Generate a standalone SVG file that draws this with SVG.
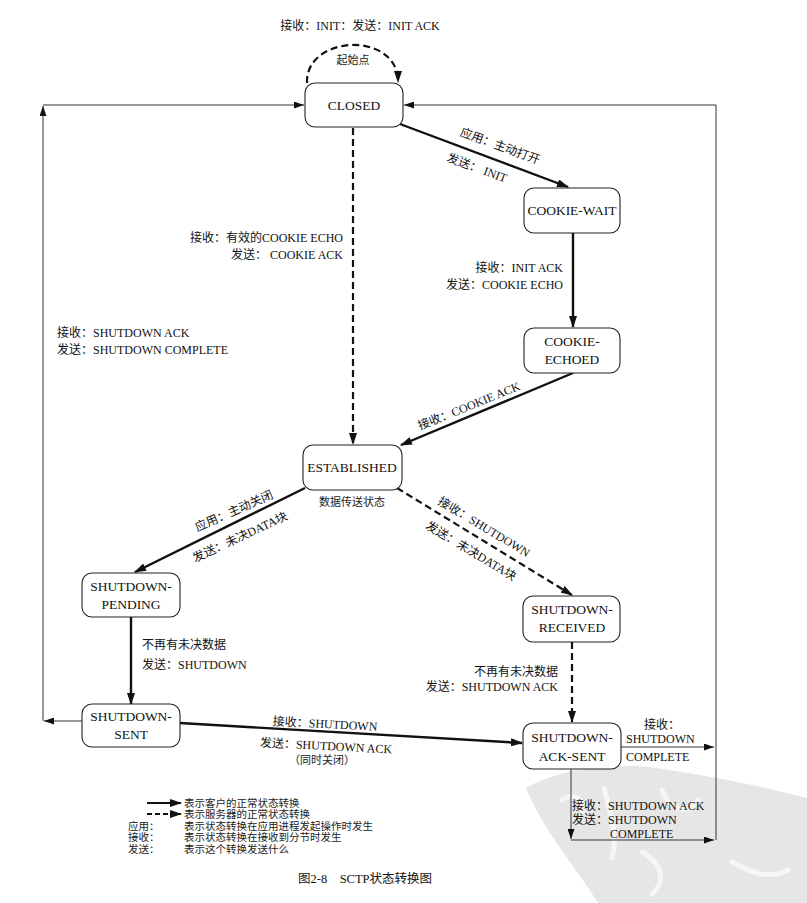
<svg xmlns="http://www.w3.org/2000/svg" width="807" height="903" viewBox="0 0 807 903">
<style>
.n{fill:#fff;stroke:#222;stroke-width:1.1}
.t{font-family:"Liberation Serif","DejaVu Serif",serif;font-size:13.5px;fill:#111}
.l{font-family:"Liberation Serif","Noto Sans CJK SC",serif;font-size:12px;fill:#111}
.s{font-family:"Liberation Serif","Noto Sans CJK SC",serif;font-size:11px;fill:#222}
.g{font-family:"Liberation Serif","Noto Sans CJK SC",serif;font-size:10.5px;fill:#222}
.c{text-anchor:middle}
.r{text-anchor:end}
.solid{fill:none;stroke:#111;stroke-width:2.4}
.dash{fill:none;stroke:#111;stroke-width:2.2;stroke-dasharray:7,4}
.thin{fill:none;stroke:#333;stroke-width:1}
</style>
<defs>
<marker id="ah" markerUnits="userSpaceOnUse" markerWidth="12" markerHeight="8" refX="11" refY="4" orient="auto"><path d="M0,0 L12,4 L0,8 z" fill="#111"/></marker>
<marker id="as" markerUnits="userSpaceOnUse" markerWidth="10" markerHeight="7" refX="10" refY="3.5" orient="auto"><path d="M0,0 L10,3.5 L0,7 z" fill="#111"/></marker>
</defs>
<rect width="807" height="903" fill="#fff"/>
<g id="watermark">
<path d="M526,788 C560,768 620,760 670,770 C720,778 770,788 807,798 L807,903 L598,903 C578,870 543,830 526,788 z" fill="#e6e6e6"/>
<path d="M562,800 C572,792 586,798 582,812 M604,788 C612,818 618,838 612,858 M662,790 C668,808 688,818 698,800 M642,852 C660,862 668,880 652,894 M732,862 C750,872 768,880 788,870" fill="none" stroke="#f6f6f6" stroke-width="5" stroke-linecap="round"/>
</g>
<g id="connectors">
<path class="dash" d="M307,83 C305,35 398,30 398,82" marker-end="url(#ah)"/>
<path class="solid" d="M400,124 L568,187" marker-end="url(#ah)"/>
<path class="solid" d="M573,233 L573,327" marker-end="url(#ah)"/>
<path class="solid" d="M573,373 L401,445" marker-end="url(#ah)"/>
<path class="dash" d="M353,128 L353,444" marker-end="url(#ah)"/>
<path class="solid" d="M305,488 L135,572" marker-end="url(#ah)"/>
<path class="dash" d="M397,488 L572,595" marker-end="url(#ah)"/>
<path class="solid" d="M131,617 L131,704" marker-end="url(#ah)"/>
<path class="dash" d="M572,642 L572,722" marker-end="url(#ah)"/>
<path class="solid" d="M180,723 L522,743" marker-end="url(#ah)"/>
<path class="thin" d="M82,721 L44,721" marker-end="url(#as)"/>
<path class="thin" d="M43,721 L43,106" marker-end="url(#as)"/>
<path class="thin" d="M43,105 L304,105" marker-end="url(#as)"/>
<path class="thin" d="M621,747 L714,747" marker-end="url(#as)"/>
<path class="thin" d="M571,769 L571,839" marker-end="url(#as)"/>
<path class="thin" d="M571,840 L714,840" marker-end="url(#as)"/>
<path class="thin" d="M716,840 L716,105 L404,105" marker-end="url(#as)"/>
</g>
<g id="labels">
<text class="l c" x="360" y="30">接收：INIT：发送：INIT ACK</text>
<text class="s c" x="353" y="64">起始点</text>
<text class="l c" transform="translate(500,146) rotate(20)" x="0" y="4">应用：主动打开</text>
<text class="l c" transform="translate(477,168) rotate(20)" x="0" y="4">发送： INIT</text>
<text class="l r" x="563" y="272">接收：INIT ACK</text>
<text class="l r" x="563" y="289">发送：COOKIE ECHO</text>
<text class="l r" x="343" y="242">接收：有效的COOKIE ECHO</text>
<text class="l r" x="343" y="259">发送： COOKIE ACK</text>
<text class="l" x="57" y="337">接收：SHUTDOWN ACK</text>
<text class="l" x="57" y="354">发送：SHUTDOWN COMPLETE</text>
<text class="l c" transform="translate(469,406) rotate(-22)" x="0" y="4">接收：COOKIE ACK</text>
<text class="s c" x="352" y="506">数据传送状态</text>
<text class="l c" transform="translate(234,511) rotate(-24)" x="0" y="4">应用：主动关闭</text>
<text class="l c" transform="translate(240,537) rotate(-25)" x="0" y="4">发送：未决DATA块</text>
<text class="l c" transform="translate(484,527) rotate(31)" x="0" y="4">接收：SHUTDOWN</text>
<text class="l c" transform="translate(471,551) rotate(31)" x="0" y="4">发送：未决DATA块</text>
<text class="l" x="142" y="649">不再有未决数据</text>
<text class="l" x="142" y="669">发送：SHUTDOWN</text>
<text class="l r" x="558" y="676">不再有未决数据</text>
<text class="l r" x="558" y="691">发送：SHUTDOWN ACK</text>
<text class="l c" transform="translate(325,724) rotate(3)" x="0" y="4">接收：SHUTDOWN</text>
<text class="l c" transform="translate(326,746) rotate(3)" x="0" y="4">发送：SHUTDOWN ACK</text>
<text class="s c" x="322" y="764">（同时关闭）</text>
<text class="l c" x="662" y="729">接收：</text>
<text class="l" x="626" y="743">SHUTDOWN</text>
<text class="l" x="626" y="761">COMPLETE</text>
<text class="l" x="572" y="810">接收：SHUTDOWN ACK</text>
<text class="l" x="572" y="824">发送：SHUTDOWN</text>
<text class="l" x="610" y="838">COMPLETE</text>
</g>
<g id="CLOSED"><rect class="n" x="305" y="83" width="98" height="44" rx="10"/><text class="t c" x="354" y="110">CLOSED</text></g>
<g id="COOKIE-WAIT"><rect class="n" x="524" y="188" width="96" height="45" rx="10"/><text class="t c" x="572" y="215">COOKIE-WAIT</text></g>
<g id="COOKIE-ECHOED"><rect class="n" x="524" y="328" width="96" height="45" rx="10"/><text class="t c" x="572" y="346">COOKIE-</text><text class="t c" x="572" y="364">ECHOED</text></g>
<g id="ESTABLISHED"><rect class="n" x="303" y="445" width="99" height="45" rx="10"/><text class="t c" x="352" y="472">ESTABLISHED</text></g>
<g id="SHUTDOWN-PENDING"><rect class="n" x="82" y="573" width="98" height="44" rx="10"/><text class="t c" x="131" y="591">SHUTDOWN-</text><text class="t c" x="131" y="609">PENDING</text></g>
<g id="SHUTDOWN-RECEIVED"><rect class="n" x="523" y="596" width="97" height="46" rx="10"/><text class="t c" x="572" y="614">SHUTDOWN-</text><text class="t c" x="572" y="632">RECEIVED</text></g>
<g id="SHUTDOWN-SENT"><rect class="n" x="82" y="704" width="98" height="43" rx="10"/><text class="t c" x="131" y="721">SHUTDOWN-</text><text class="t c" x="131" y="739">SENT</text></g>
<g id="SHUTDOWN-ACK-SENT"><rect class="n" x="523" y="723" width="98" height="46" rx="10"/><text class="t c" x="572" y="742">SHUTDOWN-</text><text class="t c" x="572" y="761">ACK-SENT</text></g>
<g id="legend">
<path class="solid" d="M147,803 L181,803" marker-end="url(#ah)" style="stroke-width:2"/>
<path class="dash" d="M147,814 L181,814" marker-end="url(#ah)" style="stroke-width:2;stroke-dasharray:5,3"/>
<text class="g" x="184" y="807">表示客户的正常状态转换</text>
<text class="g" x="184" y="818">表示服务器的正常状态转换</text>
<text class="g" x="128" y="829.5">应用：</text>
<text class="g" x="184" y="829.5">表示状态转换在应用进程发起操作时发生</text>
<text class="g" x="128" y="841">接收：</text>
<text class="g" x="184" y="841">表示状态转换在接收到分节时发生</text>
<text class="g" x="128" y="852.5">发送：</text>
<text class="g" x="184" y="852.5">表示这个转换发送什么</text>
<text class="l" x="298" y="883" style="font-size:12.5px">图2-8　SCTP状态转换图</text>
</g>
</svg>
